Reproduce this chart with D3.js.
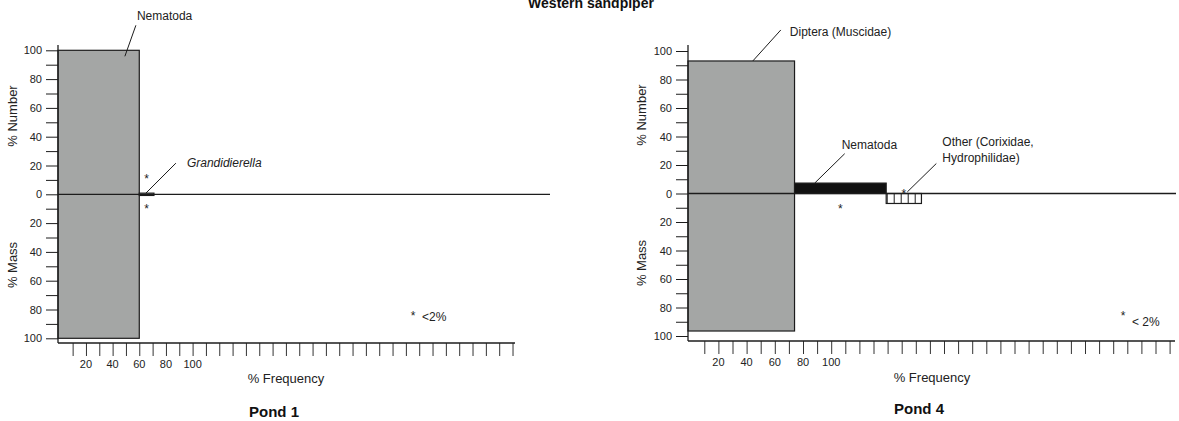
<!DOCTYPE html>
<html><head><meta charset="utf-8">
<script src="https://cdn.jsdelivr.net/npm/d3@7"></script>
<style>
body{margin:0;background:#fff}
svg{display:block;font-family:"Liberation Sans",Arial,Helvetica,sans-serif}
</style>
</head><body>
<svg id="chart" width="1179" height="421"></svg>
<script>
// ---------------- data ----------------
const chartTitle = "Western sandpiper";
const pondNames = ["Pond 1", "Pond 4"];

const pond1Prey   = ["Nematoda", "Grandidierella"];
const pond1Freq   = [60, 11];
const pond1Number = [100, 0.8];
const pond1Mass   = [100, 0.8];
const pond1NumTrace  = [false, true];
const pond1MassTrace = [false, true];

const pond4Prey   = ["Diptera (Muscidae)", "Nematoda", "Other (Corixidae, Hydrophilidae)"];
const pond4Freq   = [74, 65, 25];
const pond4Number = [93, 7.3, 0];
const pond4Mass   = [96.5, 0, 7];
const pond4NumTrace  = [false, false, true];
const pond4MassTrace = [false, true, false];

const yTickValues  = [-100,-90,-80,-70,-60,-50,-40,-30,-20,-10,0,10,20,30,40,50,60,70,80,90,100];
const yLabelValues = [-100,-80,-60,-40,-20,0,20,40,60,80,100];
const freqTickValues = d3.range(10, 341, 10);
const freqTickLabels = [20, 40, 60, 80, 100];
const numberLabel = "% Number", massLabel = "% Mass", freqLabel = "% Frequency";
const traceNote = ["<2%", "< 2%"];

// ---------------- styles / layout ----------------
const fillStyle = {
  "Nematoda|0": "#a4a6a5", "Grandidierella|0": "#a4a6a5",
  "Diptera (Muscidae)|1": "#a4a6a5", "Nematoda|1": "#111", "Other (Corixidae, Hydrophilidae)|1": "url(#hatch)"
};
const layouts = [
  { axisX: 58, yTop: 45, yMax: 50.3, yMin: 338.3, xAxisY: 343, f0: 59.3, fk: 1.333, axisEnd: 515, zeroEnd: 550,
    tickLabelY: 368, freqTitle: [286, 383], pondTitle: [274, 417], yLab: [13, 116, 265],
    starAbove: -18, starBelow: 12, note: [413, 320, 422, 321],
    ann: [ {frac: 0.82, sy: 6, dx: 11, dy: -31, tx: 1, ty: -5},
           {frac: 0.45, sy: 0, dx: 30, dy: -30, tx: 11, ty: 4, italic: true} ] },
  { axisX: 688, yTop: 45, yMax: 51, yMin: 336, xAxisY: 341, f0: 690.2, fk: 1.41, axisEnd: 1175, zeroEnd: 1176,
    tickLabelY: 366, freqTitle: [932, 382], pondTitle: [919, 414], yLab: [642, 115, 263],
    starAbove: -3, starBelow: 12.5, note: [1123, 320, 1132, 326],
    ann: [ {frac: 0.6, sy: 0, dx: 28, dy: -31, tx: 9, ty: 6},
           {frac: 0.22, sy: 0, dx: 30, dy: -29.4, tx: -3, ty: -5},
           {frac: 0.6, sy: -1.6, dx: 29, dy: -28.4, tx: 6, ty: -18, wrap: ["Other (Corixidae,", "Hydrophilidae)"]} ] }
];

const ponds = [
  { prey: pond1Prey, freq: pond1Freq, num: pond1Number, mass: pond1Mass, nt: pond1NumTrace, mt: pond1MassTrace },
  { prey: pond4Prey, freq: pond4Freq, num: pond4Number, mass: pond4Mass, nt: pond4NumTrace, mt: pond4MassTrace }
];

const svg = d3.select("#chart");
const ink = "#1c1c1c";

const defs = svg.append("defs");
const pat = defs.append("pattern").attr("id", "hatch").attr("patternUnits", "userSpaceOnUse")
  .attr("width", 7).attr("height", 10).attr("x", 886.7);
pat.append("rect").attr("width", 7).attr("height", 10).attr("fill", "#fff");
pat.append("line").attr("x1", 0.5).attr("x2", 0.5).attr("y1", 0).attr("y2", 10).attr("stroke", ink).attr("stroke-width", 1);

svg.append("text").attr("x", 591).attr("y", 8).attr("text-anchor", "middle")
  .attr("font-weight", "bold").attr("font-size", 14).attr("fill", "#111").text(chartTitle);

ponds.forEach((p, pi) => {
  const L = layouts[pi];
  const g = svg.append("g");
  const y = d3.scaleLinear().domain([-100, 100]).range([L.yMin, L.yMax]);
  const x = d3.scaleLinear().domain([0, 340]).range([L.f0, L.f0 + 340 * L.fk]);
  const y0 = y(0);

  // bars
  let cum = 0;
  const bars = p.prey.map((name, i) => {
    const b = { name, i, start: cum, end: cum + p.freq[i], num: p.num[i], mass: p.mass[i] };
    cum += p.freq[i];
    return b;
  });
  g.selectAll("rect.bar").data(bars).join("rect").attr("class", "bar")
    .attr("x", d => d.i === 0 ? L.axisX : x(d.start))
    .attr("width", d => x(d.end) - (d.i === 0 ? L.axisX : x(d.start)))
    .attr("y", d => y(d.num))
    .attr("height", d => Math.max(y(-d.mass) - y(d.num), 0.01))
    .attr("fill", d => fillStyle[d.name + "|" + pi])
    .attr("stroke", ink).attr("stroke-width", 1.2);

  // zero line
  g.append("line").attr("x1", L.axisX).attr("x2", L.zeroEnd).attr("y1", y0).attr("y2", y0)
    .attr("stroke", ink).attr("stroke-width", 1.3);

  // y axis
  const yAxis = d3.axisLeft(y).tickValues(yTickValues).tickSize(12).tickPadding(4)
    .tickFormat(d => yLabelValues.includes(d) ? Math.abs(d) : "");
  const ya = g.append("g").attr("transform", `translate(${L.axisX},0)`).call(yAxis);
  ya.select(".domain").remove();
  ya.selectAll(".tick line").attr("stroke", ink);
  ya.selectAll(".tick text").attr("font-size", 11).attr("fill", "#222").attr("font-family", null);
  g.append("line").attr("x1", L.axisX).attr("x2", L.axisX).attr("y1", L.yTop).attr("y2", L.xAxisY)
    .attr("stroke", ink).attr("stroke-width", 1.3);

  // x axis
  const xAxis = d3.axisBottom(x).tickValues(freqTickValues).tickSize(13).tickFormat("");
  const xa = g.append("g").attr("transform", `translate(0,${L.xAxisY})`).call(xAxis);
  xa.select(".domain").remove();
  xa.selectAll(".tick line").attr("stroke", "#333");
  g.append("line").attr("x1", L.axisX).attr("x2", L.axisEnd).attr("y1", L.xAxisY).attr("y2", L.xAxisY)
    .attr("stroke", ink).attr("stroke-width", 1.3);
  g.selectAll("text.fl").data(freqTickLabels).join("text").attr("class", "fl")
    .attr("x", d => x(d)).attr("y", L.tickLabelY).attr("text-anchor", "middle")
    .attr("font-size", 11).attr("fill", "#222").text(d => d);

  // axis titles
  g.append("text").attr("x", L.freqTitle[0]).attr("y", L.freqTitle[1]).attr("text-anchor", "middle")
    .attr("font-size", 13).attr("fill", "#222").text(freqLabel);
  g.append("text").attr("x", L.pondTitle[0]).attr("y", L.pondTitle[1]).attr("text-anchor", "middle")
    .attr("font-size", 15).attr("font-weight", "bold").attr("fill", "#111").text(pondNames[pi]);
  g.append("text").attr("transform", `translate(${L.yLab[0] + 4},${L.yLab[1]}) rotate(-90)`)
    .attr("text-anchor", "middle").attr("font-size", 13).attr("fill", "#222").text(numberLabel);
  g.append("text").attr("transform", `translate(${L.yLab[0] + 4},${L.yLab[2]}) rotate(-90)`)
    .attr("text-anchor", "middle").attr("font-size", 13).attr("fill", "#222").text(massLabel);

  // trace asterisks
  bars.forEach(b => {
    const cx = x((b.start + b.end) / 2);
    if (p.nt[b.i]) g.append("text").attr("x", cx).attr("y", y0 + L.starAbove + 7).attr("text-anchor", "middle")
      .attr("font-size", 12).attr("fill", "#222").text("*");
    if (p.mt[b.i]) g.append("text").attr("x", cx).attr("y", y0 + L.starBelow + 7).attr("text-anchor", "middle")
      .attr("font-size", 12).attr("fill", "#222").text("*");
  });

  // labels with leader lines
  bars.forEach(b => {
    const a = L.ann[b.i];
    const sx = x(b.start + a.frac * (b.end - b.start));
    const sy = y(b.num) + a.sy;
    const ex = sx + a.dx, ey = sy + a.dy;
    g.append("line").attr("x1", sx).attr("y1", sy).attr("x2", ex).attr("y2", ey)
      .attr("stroke", ink).attr("stroke-width", 1);
    const lines = a.wrap || [b.name];
    const t = g.append("text").attr("x", ex + a.tx).attr("y", ey + a.ty).attr("font-size", 12).attr("fill", "#222")
      .attr("font-style", a.italic ? "italic" : null);
    lines.forEach((s, k) => t.append("tspan").attr("x", ex + a.tx).attr("dy", k === 0 ? 0 : 16).text(s));
  });

  // note
  g.append("text").attr("x", L.note[0]).attr("y", L.note[1]).attr("text-anchor", "middle")
    .attr("font-size", 12).attr("fill", "#222").text("*");
  g.append("text").attr("x", L.note[2]).attr("y", L.note[3]).attr("font-size", 12).attr("fill", "#222").text(traceNote[pi]);
});
</script>
</body></html>
